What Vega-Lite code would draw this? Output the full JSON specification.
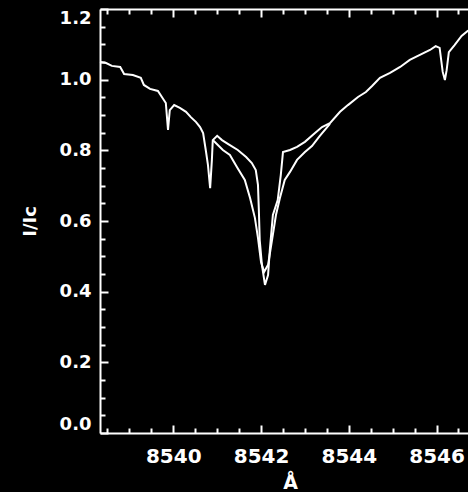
{
  "$schema": "https://vega.github.io/schema/vega-lite/v6.json",
  "autosize": {"type": "none"},
  "padding": {"left": 100, "top": 9, "right": 0, "bottom": 59},
  "width": 380,
  "height": 424,
  "background": "black",
  "config": {
    "view": {"stroke": null},
    "axis": {"grid": false, "domainColor": "white", "tickColor": "white", "labelColor": "white", "titleColor": "white", "domainWidth": 2, "tickWidth": 2, "labelFont": "DejaVu Sans", "titleFont": "DejaVu Sans", "labelFontWeight": "bold", "titleFontWeight": "bold"}
  },
  "datasets": {
    "main": [
      {"wl": 8538.33, "v": 1.050}, {"wl": 8538.47, "v": 1.047}, {"wl": 8538.60, "v": 1.039}, {"wl": 8538.79, "v": 1.036},
      {"wl": 8538.88, "v": 1.016}, {"wl": 8539.08, "v": 1.013}, {"wl": 8539.26, "v": 1.005}, {"wl": 8539.33, "v": 0.985},
      {"wl": 8539.47, "v": 0.974}, {"wl": 8539.65, "v": 0.968}, {"wl": 8539.74, "v": 0.951}, {"wl": 8539.83, "v": 0.934},
      {"wl": 8539.88, "v": 0.858}, {"wl": 8539.92, "v": 0.914}, {"wl": 8540.02, "v": 0.928}, {"wl": 8540.15, "v": 0.920},
      {"wl": 8540.29, "v": 0.909}, {"wl": 8540.40, "v": 0.894}, {"wl": 8540.52, "v": 0.880}, {"wl": 8540.61, "v": 0.866},
      {"wl": 8540.68, "v": 0.849}, {"wl": 8540.74, "v": 0.801}, {"wl": 8540.79, "v": 0.759}, {"wl": 8540.84, "v": 0.693},
      {"wl": 8540.88, "v": 0.773}, {"wl": 8540.90, "v": 0.829}, {"wl": 8541.00, "v": 0.841}, {"wl": 8541.11, "v": 0.829},
      {"wl": 8541.29, "v": 0.815}, {"wl": 8541.47, "v": 0.801}, {"wl": 8541.66, "v": 0.781}, {"wl": 8541.79, "v": 0.764},
      {"wl": 8541.88, "v": 0.744}, {"wl": 8541.93, "v": 0.702}, {"wl": 8541.95, "v": 0.631}, {"wl": 8541.97, "v": 0.546},
      {"wl": 8542.02, "v": 0.476}, {"wl": 8542.09, "v": 0.419}, {"wl": 8542.16, "v": 0.447}, {"wl": 8542.20, "v": 0.518},
      {"wl": 8542.27, "v": 0.617}, {"wl": 8542.38, "v": 0.659}, {"wl": 8542.45, "v": 0.730}, {"wl": 8542.50, "v": 0.795},
      {"wl": 8542.66, "v": 0.801}, {"wl": 8542.82, "v": 0.810}, {"wl": 8543.00, "v": 0.824}, {"wl": 8543.23, "v": 0.849},
      {"wl": 8543.39, "v": 0.866}, {"wl": 8543.57, "v": 0.877}, {"wl": 8543.80, "v": 0.909}, {"wl": 8543.98, "v": 0.928},
      {"wl": 8544.21, "v": 0.951}, {"wl": 8544.39, "v": 0.965}, {"wl": 8544.53, "v": 0.982}, {"wl": 8544.71, "v": 1.005},
      {"wl": 8544.94, "v": 1.019}, {"wl": 8545.17, "v": 1.036}, {"wl": 8545.39, "v": 1.056}, {"wl": 8545.62, "v": 1.070},
      {"wl": 8545.85, "v": 1.084}, {"wl": 8545.98, "v": 1.095}, {"wl": 8546.07, "v": 1.090}, {"wl": 8546.14, "v": 1.022},
      {"wl": 8546.19, "v": 0.999}, {"wl": 8546.23, "v": 1.027}, {"wl": 8546.28, "v": 1.078}, {"wl": 8546.41, "v": 1.098},
      {"wl": 8546.57, "v": 1.124}, {"wl": 8546.71, "v": 1.138}, {"wl": 8546.99, "v": 1.149}
    ],
    "second": [
      {"wl": 8540.90, "v": 0.829}, {"wl": 8541.13, "v": 0.801}, {"wl": 8541.29, "v": 0.787}, {"wl": 8541.45, "v": 0.753},
      {"wl": 8541.63, "v": 0.716}, {"wl": 8541.75, "v": 0.665}, {"wl": 8541.86, "v": 0.609}, {"wl": 8541.93, "v": 0.552},
      {"wl": 8542.00, "v": 0.484}, {"wl": 8542.07, "v": 0.456}, {"wl": 8542.16, "v": 0.476}, {"wl": 8542.25, "v": 0.546},
      {"wl": 8542.34, "v": 0.617}, {"wl": 8542.43, "v": 0.665}, {"wl": 8542.54, "v": 0.716}, {"wl": 8542.66, "v": 0.739},
      {"wl": 8542.82, "v": 0.773}, {"wl": 8543.00, "v": 0.795}, {"wl": 8543.16, "v": 0.812}, {"wl": 8543.34, "v": 0.841},
      {"wl": 8543.57, "v": 0.875}
    ]
  },
  "resolve": {"scale": {"x": "shared", "y": "shared"}, "axis": {"x": "independent", "y": "independent"}},
  "layer": [
    {
      "data": {"name": "main"},
      "mark": {"type": "line", "color": "white", "strokeWidth": 2},
      "encoding": {
        "x": {"field": "wl", "type": "quantitative", "scale": {"domain": [8538.33, 8546.99], "nice": false, "zero": false},
          "axis": {"orient": "bottom", "values": [8540, 8542, 8544, 8546], "format": "d", "tickSize": -8, "labelPadding": 21, "labelFontSize": 20, "title": "Å", "titleFontSize": 19, "titleY": 55, "titleBaseline": "alphabetic"}},
        "y": {"field": "v", "type": "quantitative", "scale": {"domain": [0, 1.2], "nice": false, "zero": false},
          "axis": {"orient": "left", "values": [0, 0.2, 0.4, 0.6, 0.8, 1.0, 1.2], "format": ".1f", "tickSize": -8, "labelPadding": 17, "labelFontSize": 18, "labelFlush": true, "title": "I/Ic", "titleFontSize": 18, "titleX": -70, "titleY": 212, "titleAngle": 270, "titleAlign": "center", "titleBaseline": "middle"}}
      }
    },
    {
      "data": {"name": "second"},
      "mark": {"type": "line", "color": "white", "strokeWidth": 2},
      "encoding": {
        "x": {"field": "wl", "type": "quantitative", "scale": {"domain": [8538.33, 8546.99], "nice": false, "zero": false},
          "axis": {"orient": "bottom", "values": [8538.5, 8539, 8539.5, 8540.5, 8541, 8541.5, 8542.5, 8543, 8543.5, 8544.5, 8545, 8545.5, 8546.5], "labels": false, "domain": false, "tickSize": -5, "title": null}},
        "y": {"field": "v", "type": "quantitative", "scale": {"domain": [0, 1.2], "nice": false, "zero": false},
          "axis": {"orient": "left", "values": [0.05, 0.1, 0.15, 0.25, 0.3, 0.35, 0.45, 0.5, 0.55, 0.65, 0.7, 0.75, 0.85, 0.9, 0.95, 1.05, 1.1, 1.15], "labels": false, "domain": false, "tickSize": -5, "title": null}}
      }
    },
    {
      "data": {"name": "second"},
      "mark": {"type": "line", "color": "white", "strokeWidth": 2, "opacity": 0},
      "encoding": {
        "x": {"field": "wl", "type": "quantitative", "scale": {"domain": [8538.33, 8546.99], "nice": false, "zero": false},
          "axis": {"orient": "top", "values": [8540, 8542, 8544, 8546], "labels": false, "tickSize": -8, "title": null}},
        "y": {"field": "v", "type": "quantitative", "scale": {"domain": [0, 1.2], "nice": false, "zero": false}, "axis": null}
      }
    },
    {
      "data": {"name": "second"},
      "mark": {"type": "line", "color": "white", "strokeWidth": 2, "opacity": 0},
      "encoding": {
        "x": {"field": "wl", "type": "quantitative", "scale": {"domain": [8538.33, 8546.99], "nice": false, "zero": false},
          "axis": {"orient": "top", "values": [8538.5, 8539, 8539.5, 8540.5, 8541, 8541.5, 8542.5, 8543, 8543.5, 8544.5, 8545, 8545.5, 8546.5], "labels": false, "domain": false, "tickSize": -5, "title": null}},
        "y": {"field": "v", "type": "quantitative", "scale": {"domain": [0, 1.2], "nice": false, "zero": false}, "axis": null}
      }
    }
  ]
}
